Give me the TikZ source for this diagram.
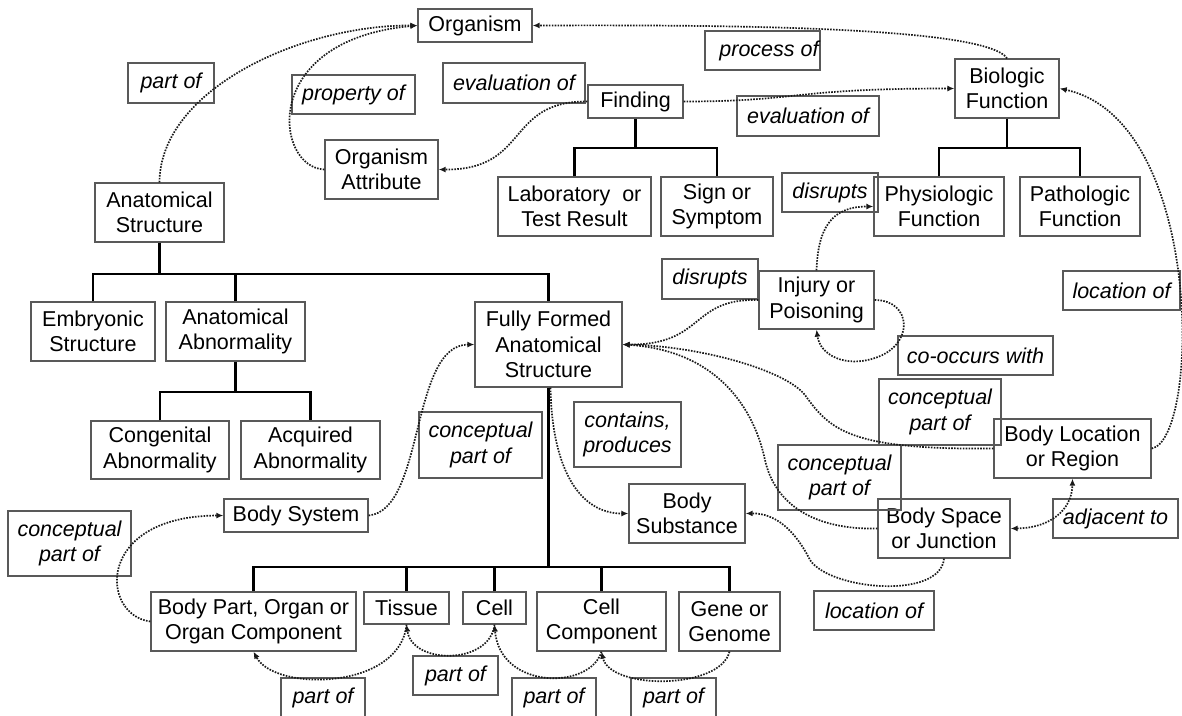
\documentclass[tikz,border=0pt]{standalone}
\usepackage{fontspec}
\setmainfont{Liberation Sans}
\usetikzlibrary{arrows.meta}
\begin{document}
\begin{tikzpicture}[x=1pt,y=-1pt,
  box/.style={draw=black!65, line width=1.3pt, inner sep=0pt, align=center,
    font=\fontsize{21.5pt}{25.3pt}\selectfont},
  sz/.style 2 args={minimum width=#1pt, minimum height=#2pt},
  concept/.style={box},
  rel/.style={box, font=\fontsize{21.5pt}{25.3pt}\selectfont\itshape},
  tree/.style={line width=2.2pt, black, line join=miter},
  link/.style={line width=1.7pt, dash pattern=on 1.6pt off 1.3pt, black!90,
    -{Latex[length=7pt,width=6pt]}},
  biglink/.style={link, {Latex[length=7pt,width=6pt]}-{Latex[length=7pt,width=6pt]}},
]
\useasboundingbox (0,0) rectangle (1182,715);
\clip (0,0) rectangle (1182,715);

% concept boxes
\node[concept, sz={114}{33}] (org)    at (475,25.5)    {Organism};
\node[concept, sz={104}{59}] (bio)    at (1007,88.5)   {Biologic\\Function};
\node[concept, sz={95}{33}]  (find)   at (635.5,101.5) {Finding};
\node[concept, sz={113}{59}] (oatt)   at (381.5,169.5) {Organism\\Attribute};
\node[concept, sz={129}{59}] (anat)   at (159.5,212.5) {Anatomical\\Structure};
\node[concept, sz={153}{59}] (lab)    at (574.5,206.5) {Laboratory\ \ or\\Test Result};
\node[concept, sz={112}{59}] (sign)   at (717,206.5)   {Sign or\\Symptom};
\node[concept, sz={130}{59}] (phys)   at (939,206.5)   {Physiologic\\Function};
\node[concept, sz={120}{59}] (path)   at (1080,206.5)  {Pathologic\\Function};
\node[concept, sz={124}{59}] (emb)    at (93,331.5)    {Embryonic\\Structure};
\node[concept, sz={139}{59}] (abn)    at (235.5,331.5) {Anatomical\\Abnormality};
\node[concept, sz={138}{58}] (cong)   at (160,450)     {Congenital\\Abnormality};
\node[concept, sz={139}{58}] (acq)    at (310.5,450)   {Acquired\\Abnormality};
\node[concept, sz={147}{85}] (ff)     at (548.5,344.5) {Fully Formed\\Anatomical\\Structure};
\node[concept, sz={115}{58}] (inj)    at (816.5,300)   {Injury or\\Poisoning};
\node[concept, sz={157}{59}] (bloc)   at (1072.5,448.5){Body Location\\or Region};
\node[concept, sz={116}{59}] (bsub)   at (687,513.5)   {Body\\Substance};
\node[concept, sz={132}{59}] (bspace) at (944,528.5)   {Body Space\\or Junction};
\node[concept, sz={144}{33}] (bsys)   at (296,515.5)   {Body System};
\node[concept, sz={205}{59}] (bpart)  at (253.5,621.5) {Body Part, Organ or\\Organ Component};
\node[concept, sz={85}{32}]  (tissue) at (406.5,608)   {Tissue};
\node[concept, sz={63}{32}]  (cell)   at (494.5,608)   {Cell};
\node[concept, sz={129}{59}] (ccomp)  at (601.5,621.5) {Cell\\Component};
\node[concept, sz={101}{59}] (gene)   at (729.5,621.5) {Gene or\\Genome};

% relation labels
\node[rel, sz={86}{40}]  (lpart)   at (171,83)      {part of};
\node[rel, sz={123}{39}] (lprop)   at (353.5,94.5)  {property of};
\node[rel, sz={142}{40}] (levalA)  at (514,83)      {evaluation of};
\node[rel, sz={115}{39}] (lproc)   at (762.5,50.5)  {\hspace*{13pt}process of};
\node[rel, sz={142}{40}] (levalB)  at (808,116)     {evaluation of};
\node[rel, sz={96}{39}]  (ldisA)   at (830,192.5)   {disrupts};
\node[rel, sz={96}{40}]  (ldisB)   at (710,279)     {disrupts};
\node[rel, sz={117}{39}] (llocA)   at (1121.5,290.5){location of};
\node[rel, sz={155}{39}] (lcooc)   at (975.5,355.5) {co-occurs with};
\node[rel, sz={122}{66}] (lcpoA)   at (940,412)     {conceptual\\part of};
\node[rel, sz={107}{65}] (lcont)   at (627.5,434.5) {contains,\\produces};
\node[rel, sz={123}{66}] (lcpoB)   at (480.5,445)   {conceptual\\part of};
\node[rel, sz={123}{65}] (lcpoC)   at (839.5,477.5) {conceptual\\part of};
\node[rel, sz={123}{65}] (lcpoD)   at (69.5,543.5)  {conceptual\\part of};
\node[rel, sz={125}{39}] (ladj)    at (1115.5,518.5){adjacent to};
\node[rel, sz={120}{39}] (llocB)   at (874,610.5)   {location of};
\node[rel, sz={84}{39}]  (lpA)     at (323,697.5)   {part of};
\node[rel, sz={85}{39}]  (lpB)     at (455.5,675.5) {part of};
\node[rel, sz={84}{39}]  (lpC)     at (554,697.5)   {part of};
\node[rel, sz={85}{39}]  (lpD)     at (673.5,697.5) {part of};

% taxonomy trees
\draw[tree] (find.south) -- ++(0,29) coordinate (fj);
\draw[tree] (lab.north) |- (fj) -| (sign.north);
\draw[tree] (bio.south) -- ++(0,29) coordinate (bj);
\draw[tree] (phys.north) |- (bj) -| (path.north);
\draw[tree] (anat.south) -- ++(0,31) coordinate (aj);
\draw[tree] (emb.north) |- (aj) -| (ff.north);
\draw[tree] (abn.north) -- (abn.north |- aj);
\draw[tree] (abn.south) -- ++(0,30) coordinate (abj);
\draw[tree] (cong.north) |- (abj) -| (acq.north);
\draw[tree] (ff.south) -- ++(0,179) coordinate (fj2);
\draw[tree] (bpart.north) |- (fj2) -| (gene.north);
\draw[tree] (tissue.north) -- (tissue.north |- fj2);
\draw[tree] (cell.north) -- (cell.north |- fj2);
\draw[tree] (ccomp.north) -- (ccomp.north |- fj2);

% semantic relations
\draw[link] (anat.north) .. controls (160,90) and (300,25) .. (org.west);
\draw[link] (oatt.west) .. controls (275,168) and (258,40) .. (org.west);
\draw[link] (find.west) .. controls (505,101) and (530,170) .. (oatt.east);
\draw[link] (find.east) .. controls (800,101.5) and (790,88.5) .. (bio.west);
\draw[link] (bio.north) .. controls (985,25) and (700,25) .. (org.east);
\draw[link] (bloc.east) .. controls (1200,440) and (1205,120) .. (bio.east);
\draw[link] (inj.north) .. controls (818,230) and (830,206.5) .. (phys.west);
\draw[link] (inj.west) .. controls (690,298) and (705,345) .. (ff.east);
\draw[link] (inj.east) .. controls (912,300) and (915,345) .. (875,358)
  .. controls (845,368) and (820,355) .. (inj.south);
\draw[link] (bloc.west) .. controls (850,450) and (830,430) .. (805,395)
  .. controls (785,370) and (700,346) .. (ff.east);
\draw[link] (bspace.west) .. controls (815,530) and (775,505) .. (765,460)
  .. controls (752,400) and (710,350) .. (ff.east);
\draw[link] (bspace.south) .. controls (940,600) and (830,590) .. (810,560)
  .. controls (795,530) and (775,513) .. (bsub.east);
\draw[biglink] (bspace.east) .. controls (1050,528) and (1072,510) .. (bloc.south);
\draw[link] ([xshift=2pt]ff.south) .. controls (552,470) and (580,513.5) .. (bsub.west);
\draw[link] (bsys.east) .. controls (425,510) and (410,345) .. (ff.west);
\draw[link] (bpart.west) .. controls (100,615) and (95,516) .. (bsys.west);
\draw[link] (tissue.south) .. controls (400,690) and (275,692) .. (bpart.south);
\draw[link] (cell.south) .. controls (490,665) and (412,665) .. (tissue.south);
\draw[link] (ccomp.south) .. controls (590,690) and (500,690) .. (cell.south);
\draw[link] (gene.south) .. controls (720,690) and (610,690) .. (ccomp.south);
\end{tikzpicture}
\end{document}
